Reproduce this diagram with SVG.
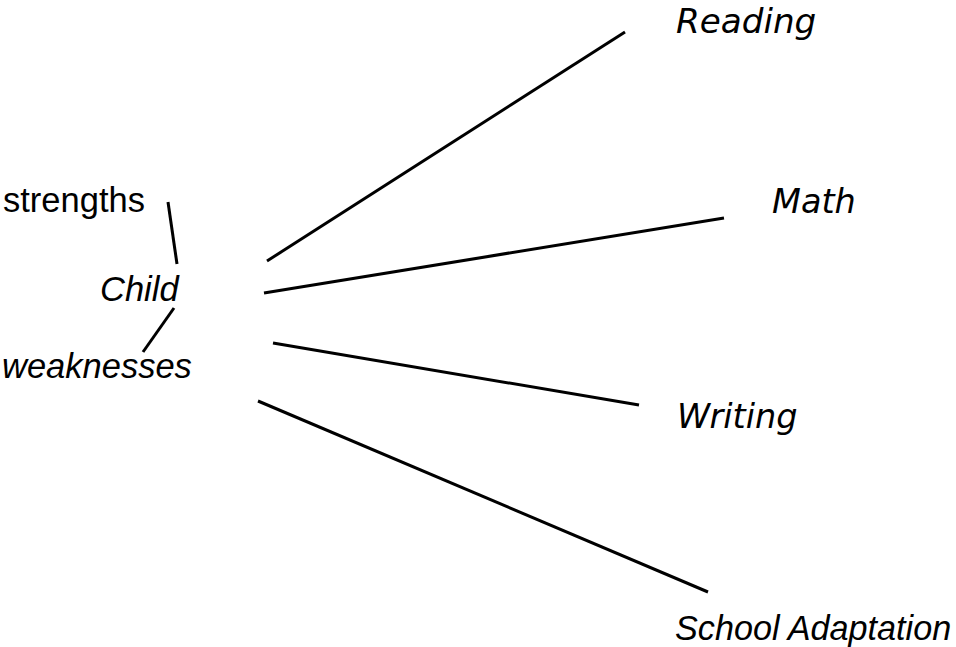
<svg xmlns="http://www.w3.org/2000/svg" width="956" height="647" viewBox="0 0 956 647">
<style>
.ar{font-family:"Liberation Sans",Arial,sans-serif;font-size:34.5px;fill:#000}
.it{font-style:italic}
.dv{font-family:"DejaVu Sans",Verdana,sans-serif;font-style:oblique;font-size:33.5px;fill:#000}
.ln{stroke:#000;stroke-width:3;fill:none;stroke-linecap:butt}
</style>
<rect width="956" height="647" fill="#fff"/>
<g id="connectors">
<line class="ln" x1="168" y1="202" x2="177" y2="264"/>
<line class="ln" x1="174" y1="308" x2="143" y2="352"/>
<line class="ln" x1="267" y1="261" x2="625" y2="32"/>
<line class="ln" x1="264" y1="293" x2="724" y2="218"/>
<line class="ln" x1="273" y1="343" x2="639" y2="405"/>
<line class="ln" x1="258" y1="401" x2="708" y2="592"/>
</g>
<g id="strengths"><text class="ar" x="3" y="212">strengths</text></g>
<g id="child"><text class="ar it" x="100" y="301">Child</text></g>
<g id="weaknesses"><text class="ar it" x="2" y="378">weaknesses</text></g>
<g id="reading"><text class="dv" x="676" y="33" style="font-size:34.2px">Reading</text></g>
<g id="math"><text class="dv" x="772" y="213">Math</text></g>
<g id="writing"><text class="dv" x="677" y="428">Writing</text></g>
<g id="school"><text class="ar it" x="675" y="640" style="font-size:34.2px">School Adaptation</text></g>
</svg>
